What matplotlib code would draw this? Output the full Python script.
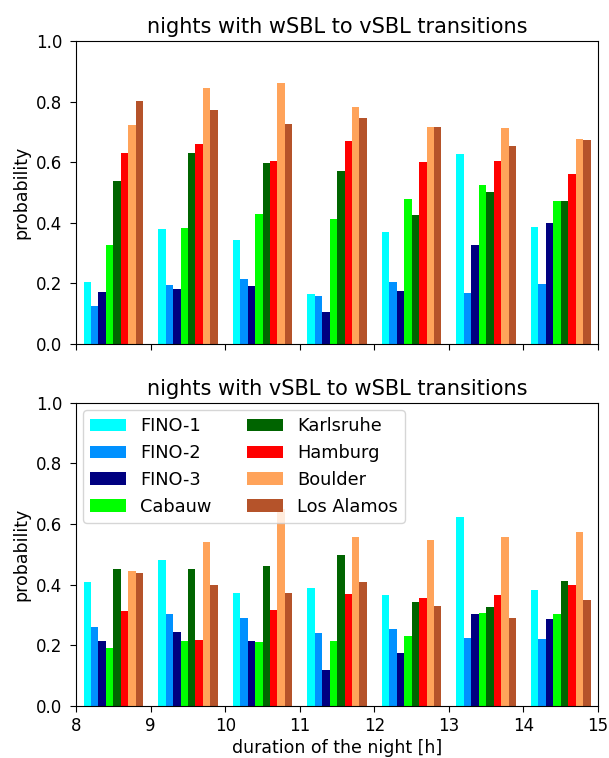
import numpy as np
import matplotlib
matplotlib.use('Agg')
import matplotlib.pyplot as plt

hours = [8, 9, 10, 11, 12, 13, 14]
stations = ['FINO-1', 'FINO-2', 'FINO-3', 'Cabauw', 'Karlsruhe', 'Hamburg', 'Boulder', 'Los Alamos']
colors = ['#00ffff', '#0091ff', '#000080', '#00ff00', '#006400', '#ff0000', '#ffa35a', '#b5532a']

# probability per station (rows) and night duration (columns)
w2v = [
	[0.204, 0.378, 0.342, 0.164, 0.369, 0.626, 0.385],  # FINO-1
	[0.124, 0.194, 0.213, 0.157, 0.204, 0.167, 0.197],  # FINO-2
	[0.171, 0.180, 0.190, 0.105, 0.174, 0.326, 0.398],  # FINO-3
	[0.326, 0.382, 0.428, 0.411, 0.477, 0.524, 0.471],  # Cabauw
	[0.537, 0.629, 0.596, 0.570, 0.425, 0.501, 0.471],  # Karlsruhe
	[0.629, 0.659, 0.603, 0.669, 0.600, 0.603, 0.560],  # Hamburg
	[0.722, 0.844, 0.860, 0.781, 0.715, 0.712, 0.675],  # Boulder
	[0.801, 0.771, 0.725, 0.747, 0.715, 0.652, 0.672],  # Los Alamos
]
v2w = [
	[0.409, 0.481, 0.373, 0.389, 0.366, 0.623, 0.382],
	[0.260, 0.303, 0.290, 0.241, 0.254, 0.224, 0.221],
	[0.214, 0.244, 0.214, 0.119, 0.175, 0.303, 0.287],
	[0.191, 0.214, 0.211, 0.214, 0.231, 0.307, 0.303],
	[0.452, 0.452, 0.462, 0.498, 0.343, 0.326, 0.412],
	[0.313, 0.218, 0.316, 0.369, 0.356, 0.366, 0.399],
	[0.445, 0.541, 0.650, 0.557, 0.547, 0.557, 0.574],
	[0.438, 0.399, 0.373, 0.409, 0.330, 0.290, 0.349],
]

fig, axs = plt.subplots(2, 1, figsize=(6.09, 7.58), dpi=100, sharex=True)
plt.subplots_adjust(left=0.125, right=0.982, top=0.946, bottom=0.069, hspace=0.195)

width = 0.1
titles = ['nights with wSBL to vSBL transitions', 'nights with vSBL to wSBL transitions']
for ax, data, title in zip(axs, [w2v, v2w], titles):
	for i, st in enumerate(stations):
		x = np.array(hours) + 0.1 + i*width
		ax.bar(x, data[i], width=width, align='edge', color=colors[i], label=st)
	ax.set_ylim(0, 1.0)
	ax.set_xlim(8, 15)
	ax.set_ylabel('probability', fontsize=12.5)
	ax.set_title(title, fontsize=15)
	ax.tick_params(labelsize=12, length=4.5)
	ax.tick_params(axis='y', pad=5.5)

axs[1].set_xticks(range(8, 16))
axs[1].set_xlabel('duration of the night [h]', fontsize=12.5, labelpad=3)
axs[1].legend(loc='upper left', ncol=2, fontsize=12.8, borderaxespad=0.4)

plt.savefig('out.png', dpi=100)
